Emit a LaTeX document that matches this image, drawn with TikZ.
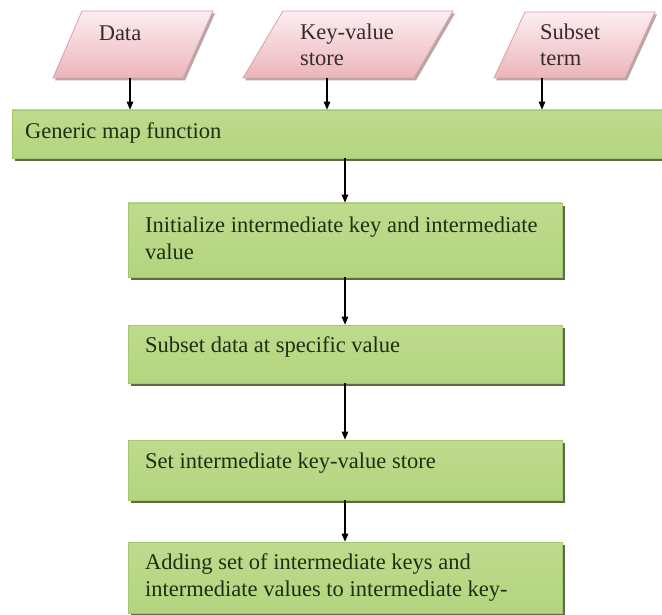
\documentclass[tikz,border=0pt]{standalone}
\usepackage{fontspec}
\setmainfont{Liberation Serif}
\usetikzlibrary{arrows.meta,shadows}

\definecolor{pinkTop}{HTML}{FCEEF0}
\definecolor{pinkMid}{HTML}{F6D4D8}
\definecolor{pinkBot}{HTML}{ECB5BB}
\definecolor{pinkEdge}{HTML}{D9A0A7}
\definecolor{pinkShade}{HTML}{9E8A8C}
\definecolor{greenTop}{HTML}{BFDB8E}
\definecolor{greenMid}{HTML}{9BC559}
\definecolor{greenBot}{HTML}{B3D57F}
\definecolor{greenEdge}{HTML}{A3C86D}
\definecolor{greenShade}{HTML}{4B5A35}
\definecolor{greenText}{HTML}{1B3110}
\definecolor{pinkText}{HTML}{352C30}

\tikzset{
  txt/.style={font=\fontsize{22.5}{26.5}\selectfont, inner sep=0pt, align=left},
  inputshape/.style={top color=pinkTop, middle color=pinkMid, bottom color=pinkBot,
    draw=pinkEdge, line width=0.8pt,
    drop shadow={shadow xshift=2pt, shadow yshift=-2.5pt, fill=pinkShade, opacity=0.75}},
  stepbox/.style={rectangle, inner sep=0pt, minimum width=434pt,
    top color=greenTop, middle color=greenMid, bottom color=greenBot,
    draw=greenEdge, line width=0.6pt,
    drop shadow={shadow xshift=3pt, shadow yshift=-3pt, fill=greenShade, opacity=0.9}},
  flow/.style={-{Triangle[length=8pt,width=6.5pt]}, line width=1.2pt, black},
}

\begin{document}
\begin{tikzpicture}[x=1pt,y=-1pt]
\useasboundingbox (0,0) rectangle (662,615);
\clip (0,0) rectangle (662,615);
\fill[white] (0,0) rectangle (662,615);

% input parallelograms
\shade[inputshape] (82,11) -- (213,11) -- (183,78) -- (53,78) -- cycle;
\shade[inputshape] (283,11) -- (453,11) -- (414,78) -- (243,78) -- cycle;
\shade[inputshape] (525,12) -- (655,12) -- (625,78) -- (494,78) -- cycle;

% multi-line texts are placed by the baseline of their last line
\node[txt, text=pinkText, anchor=base] (data) at (120,41) {Data};
\node[txt, text=pinkText, anchor=base west] (kv) at (300,66) {Key-value\\store};
\node[txt, text=pinkText, anchor=base west] (sub) at (540,66) {Subset\\term};

\coordinate (dataout) at (130,78);
\coordinate (kvout) at (327,78);
\coordinate (subout) at (542,78);

% generic map function bar
\node[stepbox, minimum width=668pt, minimum height=48pt] (gen) at (346,134) {};
\node[txt, text=greenText, anchor=west] (gentext) at (25,133) {Generic map function};

% processing steps
\node[stepbox, minimum height=74pt] (b1) at (345,240) {};
\node[stepbox, minimum height=58pt] (b2) at (345,354) {};
\node[stepbox, minimum height=60pt] (b3) at (345,470) {};
\node[stepbox, minimum height=71pt] (b4) at (345,577.5) {};

\node[txt, text=greenText, anchor=base west] (t1) at (145,259)
  {Initialize intermediate key and intermediate\\value};
\node[txt, text=greenText, anchor=base west] (t2) at (145,352)
  {Subset data at specific value};
\node[txt, text=greenText, anchor=base west] (t3) at (145,468)
  {Set intermediate key-value store};
\node[txt, text=greenText, anchor=base west] (t4) at (145,596)
  {Adding set of intermediate keys and\\intermediate values to intermediate key-};

% connectors
\draw[flow] (dataout) -- (dataout |- gen.north);
\draw[flow] (kvout) -- (kvout |- gen.north);
\draw[flow] (subout) -- (subout |- gen.north);
\draw[flow] (gen.south -| b1.north) -- (b1.north);
\draw[flow] (b1.south) -- (b2.north);
\draw[flow] (b2.south) -- (b3.north);
\draw[flow] (b3.south) -- (b4.north);
\end{tikzpicture}
\end{document}
